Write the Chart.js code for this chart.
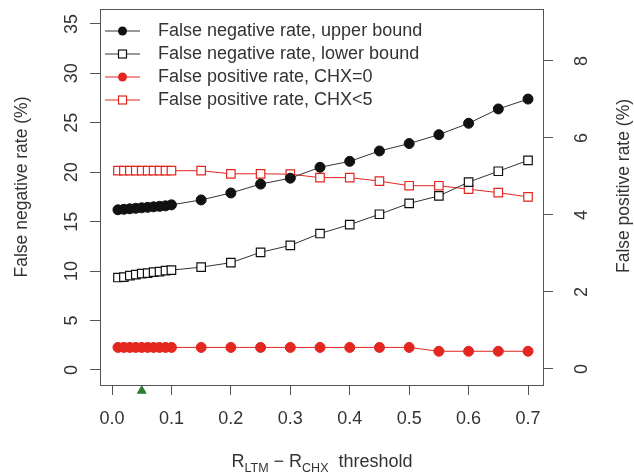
<!DOCTYPE html>
<html>
<head>
<meta charset="utf-8">
<script src="https://cdn.jsdelivr.net/npm/chart.js@4"></script>
<style>
  body { margin: 0; background: #fff; }
  canvas { display: block; }
</style>
</head>
<body>
<canvas id="chartOne" width="634" height="473"></canvas>
<script>
// thresholds on the x axis
var thresholds = [0.01, 0.02, 0.03, 0.04, 0.05, 0.06, 0.07, 0.08, 0.09, 0.1,
    0.15, 0.2, 0.25, 0.3, 0.35, 0.4, 0.45, 0.5, 0.55, 0.6, 0.65, 0.7];

// false negative rate (%), left axis
var fnUpper = [16.2, 16.25, 16.3, 16.35, 16.4, 16.45, 16.5, 16.55, 16.6, 16.7,
    17.2, 17.9, 18.8, 19.4, 20.5, 21.1, 22.15, 22.9, 23.8, 24.95, 26.4, 27.4];
var fnLower = [9.35, 9.4, 9.55, 9.65, 9.75, 9.8, 9.9, 9.95, 10.05, 10.1,
    10.4, 10.85, 11.9, 12.6, 13.8, 14.7, 15.75, 16.85, 17.6, 19.0, 20.1, 21.2];

// false positive rate (%), right axis
var fpChx0 = [0.56, 0.56, 0.56, 0.56, 0.56, 0.56, 0.56, 0.56, 0.56, 0.56,
    0.56, 0.56, 0.56, 0.56, 0.56, 0.56, 0.56, 0.56, 0.46, 0.46, 0.46, 0.46];
var fpChx5 = [5.15, 5.15, 5.15, 5.15, 5.15, 5.15, 5.15, 5.15, 5.15, 5.15,
    5.15, 5.07, 5.07, 5.06, 4.97, 4.97, 4.88, 4.76, 4.76, 4.67, 4.58, 4.47];

var seriesLabels = ['False negative rate, upper bound', 'False negative rate, lower bound',
    'False positive rate, CHX=0', 'False positive rate, CHX<5'];

// chosen threshold marker (green triangle under the x axis)
var markerX = [0.05];
var markerY = [-2.1];

var xTicks = [0, 0.1, 0.2, 0.3, 0.4, 0.5, 0.6, 0.7];
var yTicks = [0, 5, 10, 15, 20, 25, 30, 35];
var y1Ticks = [0, 2, 4, 6, 8];

var RED = '#e3261f';
var BLACK = '#111';
var TEXT = '#333';
var AXIS = '#555';
var FONT = '"Liberation Sans", Arial, sans-serif';

function pts(ys) {
    return thresholds.map(function (x, i) { return { x: x, y: ys[i] }; });
}

function setTicks(list) {
    return function (scale) {
        scale.ticks = list.map(function (v) { return { value: v }; });
    };
}

function drawMarker(ctx, style, x, y, color) {
    ctx.save();
    ctx.lineWidth = 1.2;
    ctx.strokeStyle = color;
    if (style === 'circle') {
        ctx.fillStyle = color;
        ctx.beginPath();
        ctx.arc(x, y, 4.5, 0, Math.PI * 2);
        ctx.fill();
    } else {
        ctx.fillStyle = '#fff';
        ctx.fillRect(x - 4, y - 4, 8, 8);
        ctx.strokeRect(x - 4, y - 4, 8, 8);
    }
    ctx.restore();
}

var decorations = {
    id: 'decorations',
    afterDraw: function (chart) {
        var ctx = chart.ctx;
        var area = chart.chartArea;
        var sx = chart.scales.x, sy = chart.scales.y, sy1 = chart.scales.y1;
        ctx.save();

        // top edge of the box
        ctx.strokeStyle = AXIS;
        ctx.lineWidth = 1;
        ctx.beginPath();
        ctx.moveTo(area.left, area.top + 0.5);
        ctx.lineTo(area.right, area.top + 0.5);
        ctx.stroke();

        ctx.fillStyle = TEXT;
        ctx.font = '18px ' + FONT;
        ctx.textAlign = 'center';
        ctx.textBaseline = 'middle';

        // x tick labels
        xTicks.forEach(function (v) {
            ctx.fillText(v.toFixed(1), sx.getPixelForValue(v), 419);
        });

        // rotated y tick labels, both sides
        yTicks.forEach(function (v) {
            ctx.save();
            ctx.translate(72, sy.getPixelForValue(v));
            ctx.rotate(-Math.PI / 2);
            ctx.fillText(String(v), 0, 0);
            ctx.restore();
        });
        y1Ticks.forEach(function (v) {
            ctx.save();
            ctx.translate(582, sy1.getPixelForValue(v));
            ctx.rotate(-Math.PI / 2);
            ctx.fillText(String(v), 0, 0);
            ctx.restore();
        });

        // axis titles
        ctx.font = '17.5px ' + FONT;
        ctx.save();
        ctx.translate(22, 187);
        ctx.rotate(-Math.PI / 2);
        ctx.fillText('False negative rate (%)', 0, 0);
        ctx.restore();
        ctx.save();
        ctx.translate(624, 186);
        ctx.rotate(-Math.PI / 2);
        ctx.fillText('False positive rate (%)', 0, 0);
        ctx.restore();

        // x title with subscripts
        var parts = [
            ['R', 18, 0], ['LTM', 12.5, 5], [' \u2212 ', 18, 0], ['R', 18, 0],
            ['CHX', 12.5, 5], ['  threshold', 18, 0]
        ];
        var total = 0;
        parts.forEach(function (p) {
            ctx.font = p[1] + 'px ' + FONT;
            total += ctx.measureText(p[0]).width;
        });
        var cx = 322 - total / 2;
        ctx.textAlign = 'left';
        ctx.textBaseline = 'alphabetic';
        parts.forEach(function (p) {
            ctx.font = p[1] + 'px ' + FONT;
            ctx.fillText(p[0], cx, 467 + p[2]);
            cx += ctx.measureText(p[0]).width;
        });

        // legend
        var rows = [31, 54, 77, 100];
        ctx.font = '18px ' + FONT;
        ctx.textBaseline = 'middle';
        chart.data.datasets.forEach(function (ds, i) {
            if (i > 3) return;
            var y = rows[i];
            ctx.strokeStyle = ds.borderColor;
            ctx.lineWidth = 1;
            ctx.beginPath();
            ctx.moveTo(105, y);
            ctx.lineTo(140, y);
            ctx.stroke();
            drawMarker(ctx, ds.pointStyle, 122.5, y, ds.pointBorderColor);
            ctx.fillStyle = TEXT;
            ctx.fillText(ds.label, 158, y);
        });

        ctx.restore();
    }
};

var chartOne = document.getElementById('chartOne');
var myChart = new Chart(chartOne, {
    type: 'line',
    data: {
        datasets: [{
            label: seriesLabels[0],
            data: pts(fnUpper),
            yAxisID: 'y',
            borderColor: '#333',
            borderWidth: 1,
            pointStyle: 'circle',
            pointRadius: 5,
            pointBackgroundColor: BLACK,
            pointBorderColor: BLACK
        }, {
            label: seriesLabels[1],
            data: pts(fnLower),
            yAxisID: 'y',
            borderColor: '#333',
            borderWidth: 1,
            pointStyle: 'rect',
            pointRadius: 6,
            pointBackgroundColor: '#fff',
            pointBorderColor: BLACK,
            pointBorderWidth: 1.2
        }, {
            label: seriesLabels[2],
            data: pts(fpChx0),
            yAxisID: 'y1',
            borderColor: RED,
            borderWidth: 1,
            pointStyle: 'circle',
            pointRadius: 5,
            pointBackgroundColor: RED,
            pointBorderColor: RED
        }, {
            label: seriesLabels[3],
            data: pts(fpChx5),
            yAxisID: 'y1',
            borderColor: RED,
            borderWidth: 1,
            pointStyle: 'rect',
            pointRadius: 6,
            pointBackgroundColor: '#fff',
            pointBorderColor: RED,
            pointBorderWidth: 1.2
        }, {
            label: 'threshold',
            data: markerX.map(function (x, i) { return { x: x, y: markerY[i] }; }),
            yAxisID: 'y',
            showLine: false,
            clip: false,
            pointStyle: 'triangle',
            pointRadius: 5,
            pointBackgroundColor: '#2e7d32',
            pointBorderColor: '#2e7d32'
        }]
    },
    options: {
        responsive: false,
        animation: false,
        layout: { padding: { top: 9, left: 0, right: 0, bottom: 0 } },
        plugins: {
            legend: { display: false },
            tooltip: { enabled: false }
        },
        scales: {
            x: {
                type: 'linear',
                min: -0.0202,
                max: 0.7252,
                afterBuildTicks: setTicks(xTicks),
                afterFit: function (s) { s.height = 88; },
                ticks: { display: false },
                grid: { drawOnChartArea: false, tickLength: 10, color: AXIS },
                border: { color: AXIS }
            },
            y: {
                position: 'left',
                min: -1.52,
                max: 36.51,
                afterBuildTicks: setTicks(yTicks),
                afterFit: function (s) { s.width = 100; },
                ticks: { display: false },
                grid: { drawOnChartArea: false, tickLength: 10, color: AXIS },
                border: { color: AXIS }
            },
            y1: {
                position: 'right',
                min: -0.416,
                max: 9.35,
                afterBuildTicks: setTicks(y1Ticks),
                afterFit: function (s) { s.width = 91; },
                ticks: { display: false },
                grid: { drawOnChartArea: false, tickLength: 10, color: AXIS },
                border: { color: AXIS }
            }
        }
    },
    plugins: [decorations]
});
</script>
</body>
</html>
